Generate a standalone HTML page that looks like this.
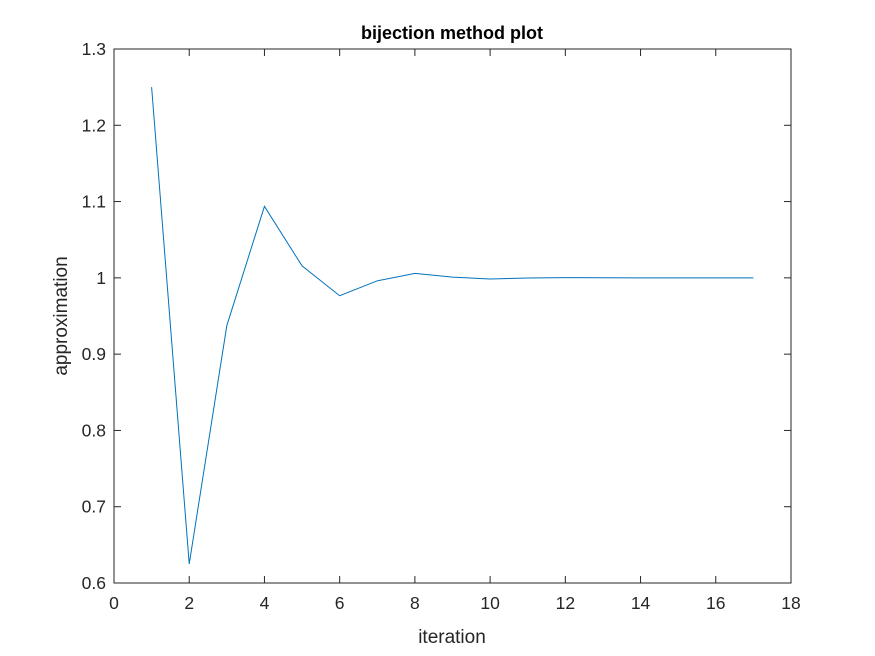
<!DOCTYPE html>
<html><head><meta charset="utf-8"><style>
html,body{margin:0;padding:0;background:#fff;}
svg{display:block;font-family:"Liberation Sans",Arial,sans-serif;}
</style></head><body>
<svg id="chart" width="875" height="656" viewBox="0 0 875 656">
<rect x="0" y="0" width="875" height="656" fill="#fff"/>
<rect x="114" y="49" width="677" height="534" fill="#fff" stroke="none"/>
<g id="grid"></g>
<text x="452" y="39" text-anchor="middle" font-size="18" font-weight="bold" fill="#000">bijection method plot</text>
<text x="452" y="643" text-anchor="middle" font-size="19" fill="#262626">iteration</text>
<text transform="translate(67,316) rotate(-90)" text-anchor="middle" font-size="19" fill="#262626">approximation</text>
</svg>
<script>
const iterations = [1,2,3,4,5,6,7,8,9,10,11,12,13,14,15,16,17];
const approximations = [1.25,0.625,0.9375,1.09375,1.015625,0.9765625,0.99609,1.00586,1.00098,0.99854,0.99976,1.00037,1.00006,0.99991,0.99998,1.00002,1.0];
const xTicks = [0,2,4,6,8,10,12,14,16,18];
const yTicks = [0.6,0.7,0.8,0.9,1.0,1.1,1.2,1.3];
const yTickLabels = ["0.6","0.7","0.8","0.9","1","1.1","1.2","1.3"];

const L=114,R=791,T=49,B=583;
const xMin=0,xMax=18,yMin=0.6,yMax=1.3;
function sx(v){return L+(v-xMin)/(xMax-xMin)*(R-L);}
function sy(v){return B-(v-yMin)/(yMax-yMin)*(B-T);}
const NS="http://www.w3.org/2000/svg";
const svg=document.getElementById('chart');
const g=document.getElementById('grid');
function mk(tag,attrs,parent){const e=document.createElementNS(NS,tag);for(const k in attrs)e.setAttribute(k,attrs[k]);(parent||svg).appendChild(e);return e;}
const tl=7;
xTicks.forEach((v,i)=>{
  const x=sx(v);
  const t1=mk('line',{x1:x,y1:B,x2:x,y2:B-tl,stroke:'#262626','stroke-width':1},g);
  
  
  const t2=mk('line',{x1:x,y1:T,x2:x,y2:T+tl,stroke:'#262626','stroke-width':1},g);
  
  
  const lb=mk('text',{x:x,y:B+26,'text-anchor':'middle','font-size':17.5,fill:'#262626'},g);
  lb.textContent=String(v);
  
  
});
yTicks.forEach((v,i)=>{
  const y=sy(v);
  const t1=mk('line',{x1:L,y1:y,x2:L+tl,y2:y,stroke:'#262626','stroke-width':1},g);
  
  
  const t2=mk('line',{x1:R,y1:y,x2:R-tl,y2:y,stroke:'#262626','stroke-width':1},g);
  
  
  const lb=mk('text',{x:L-8,y:y+6,'text-anchor':'end','font-size':17.5,fill:'#262626'},g);
  lb.textContent=yTickLabels[i];
  
  
});
const frame=mk('rect',{x:L,y:T,width:R-L,height:B-T,fill:'none',stroke:'#262626','stroke-width':1},g);


const pts=iterations.map((x,i)=>sx(x).toFixed(2)+','+sy(approximations[i]).toFixed(2)).join(' ');
const line=mk('polyline',{points:pts,fill:'none',stroke:'#0072bd','stroke-width':1});


</script>
</body></html>
